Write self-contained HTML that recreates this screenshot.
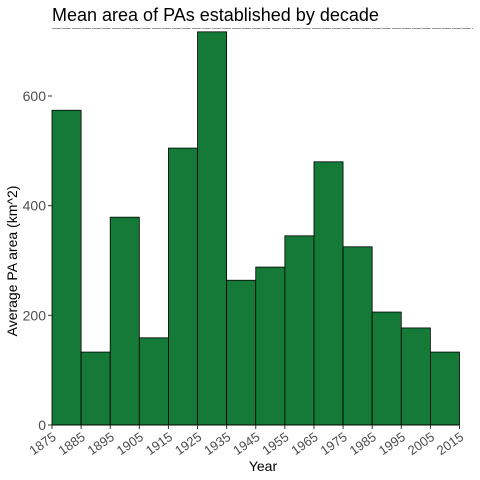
<!DOCTYPE html>
<html><head><meta charset="utf-8"><style>
html,body{margin:0;padding:0;background:#fff}
svg{display:block;font-family:"Liberation Sans",Arial,sans-serif}
</style></head><body>
<svg id="chart" width="480" height="480" viewBox="0 0 480 480">
<text x="52" y="21" font-size="18" fill="#000">Mean area of PAs established by decade</text>
<line x1="52" y1="28.5" x2="473" y2="28.5" stroke="#999" stroke-width="1" stroke-dasharray="9,1"/>
<g id="bars"></g>
<g id="axes"></g>
<text x="263" y="471" font-size="14" text-anchor="middle" fill="#000">Year</text>
<text transform="translate(17,261) rotate(-90)" font-size="14" text-anchor="middle" fill="#000">Average PA area (km^2)</text>
</svg>
<script>
const decades=[1875,1885,1895,1905,1915,1925,1935,1945,1955,1965,1975,1985,1995,2005];
const meanArea=[574,133,379,159,505,717,264,288,345,480,325,206,177,133];
const xTicks=[1875,1885,1895,1905,1915,1925,1935,1945,1955,1965,1975,1985,1995,2005,2015];
const yTicks=[0,200,400,600];
const NS="http://www.w3.org/2000/svg";
const x0=52,x1=459.5,y0=425,yPer=329/600;
const xs=v=>x0+(v-1875)/(2015-1875)*(x1-x0);
const ys=v=>y0-v*yPer;
const bars=document.getElementById('bars'),axes=document.getElementById('axes');
function mk(t,a,p){const e=document.createElementNS(NS,t);for(const k in a)e.setAttribute(k,a[k]);p.appendChild(e);return e;}
decades.forEach((d,i)=>{
const r=mk('rect',{x:xs(d),y:ys(meanArea[i]),width:xs(d+10)-xs(d),height:y0-ys(meanArea[i]),fill:'#157a37',stroke:'#000','stroke-width':0.8},bars);


});
const ax=mk('line',{x1:x0,y1:y0,x2:x1,y2:y0,stroke:'#000','stroke-width':1},axes);


xTicks.forEach(t=>{
mk('line',{x1:xs(t),y1:y0,x2:xs(t),y2:y0+4,stroke:'#333'},axes);
const tx=mk('text',{x:xs(t)+5,y:y0+14,'font-size':13,fill:'#4d4d4d','text-anchor':'end',transform:`rotate(-35 ${xs(t)+5} ${y0+14})`},axes);
tx.textContent=t;


});
yTicks.forEach(t=>{
mk('line',{x1:x0-4,y1:ys(t),x2:x0,y2:ys(t),stroke:'#333'},axes);
const tx=mk('text',{x:x0-6,y:ys(t)+5,'font-size':14,fill:'#4d4d4d','text-anchor':'end'},axes);
tx.textContent=t;


});
</script>
</body></html>
